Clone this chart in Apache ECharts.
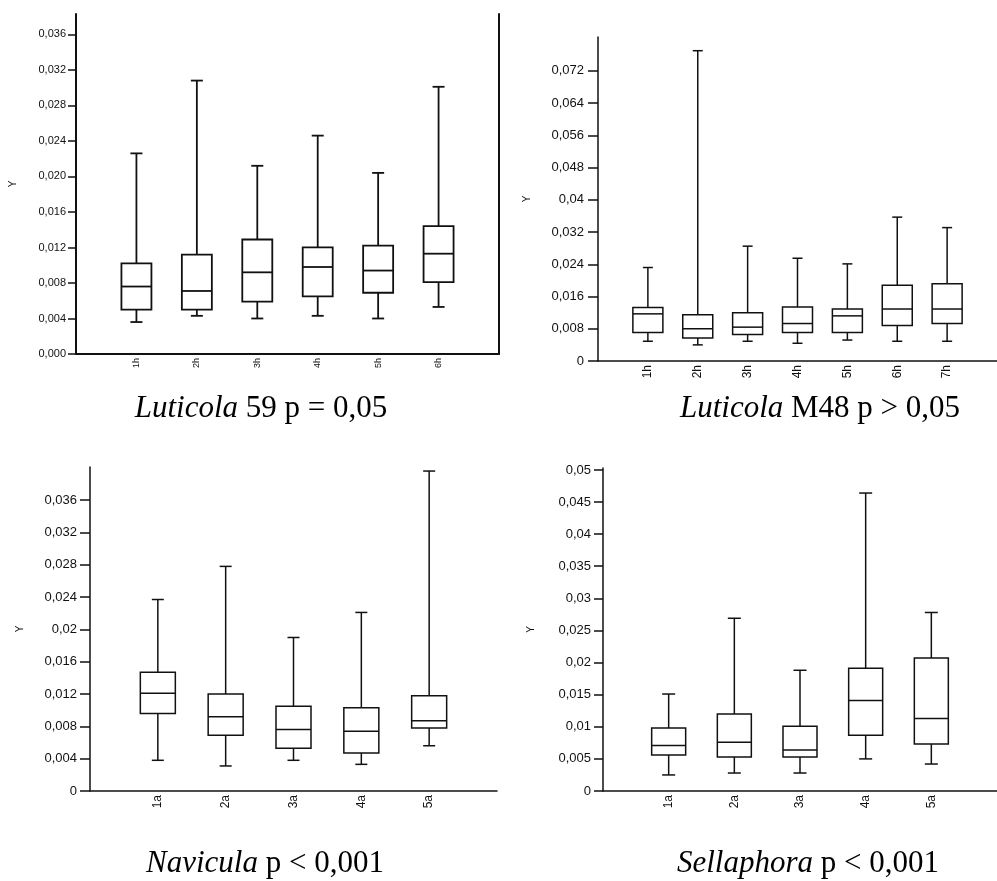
<!DOCTYPE html>
<html>
<head>
<meta charset="utf-8">
<script src="https://cdn.jsdelivr.net/npm/echarts@6/dist/echarts.min.js"></script>
<style>html,body{margin:0;padding:0;background:#fff}#c{width:997px;height:881px}</style>
</head>
<body>
<div id="c"></div>
<script>
// Panel 1: Luticola 59
const p1Cats = ['1h','2h','3h','4h','5h','6h'];
const p1Min = [0.0036, 0.0043, 0.0040, 0.0043, 0.0040, 0.0053];
const p1Q1 = [0.0050, 0.0050, 0.0059, 0.0065, 0.0069, 0.0081];
const p1Median = [0.0076, 0.0071, 0.0092, 0.0098, 0.0094, 0.0113];
const p1Q3 = [0.0102, 0.0112, 0.0129, 0.0120, 0.0122, 0.0144];
const p1Max = [0.0226, 0.0308, 0.0212, 0.0246, 0.0204, 0.0301];
const p1Ticks = [0, 0.004, 0.008, 0.012, 0.016, 0.020, 0.024, 0.028, 0.032, 0.036];
const p1TickLabels = ['0,000','0,004','0,008','0,012','0,016','0,020','0,024','0,028','0,032','0,036'];

// Panel 2: Luticola M48
const p2Cats = ['1h','2h','3h','4h','5h','6h','7h'];
const p2Min = [0.0049, 0.0040, 0.0049, 0.0044, 0.0052, 0.0049, 0.0049];
const p2Q1 = [0.0071, 0.0057, 0.0066, 0.0071, 0.0071, 0.0088, 0.0093];
const p2Median = [0.0117, 0.0080, 0.0084, 0.0093, 0.0112, 0.0129, 0.0129];
const p2Q3 = [0.0133, 0.0115, 0.0120, 0.0134, 0.0129, 0.0188, 0.0192];
const p2Max = [0.0232, 0.0770, 0.0285, 0.0255, 0.0241, 0.0357, 0.0331];
const p2Ticks = [0, 0.008, 0.016, 0.024, 0.032, 0.040, 0.048, 0.056, 0.064, 0.072];
const p2TickLabels = ['0','0,008','0,016','0,024','0,032','0,04','0,048','0,056','0,064','0,072'];

// Panel 3: Navicula
const p3Cats = ['1a','2a','3a','4a','5a'];
const p3Min = [0.0038, 0.0031, 0.0038, 0.0033, 0.0056];
const p3Q1 = [0.0096, 0.0069, 0.0053, 0.0047, 0.0078];
const p3Median = [0.0121, 0.0092, 0.0076, 0.0074, 0.0087];
const p3Q3 = [0.0147, 0.0120, 0.0105, 0.0103, 0.0118];
const p3Max = [0.0237, 0.0278, 0.0190, 0.0221, 0.0396];
const p3Ticks = [0, 0.004, 0.008, 0.012, 0.016, 0.020, 0.024, 0.028, 0.032, 0.036];
const p3TickLabels = ['0','0,004','0,008','0,012','0,016','0,02','0,024','0,028','0,032','0,036'];

// Panel 4: Sellaphora
const p4Cats = ['1a','2a','3a','4a','5a'];
const p4Min = [0.0025, 0.0028, 0.0028, 0.0050, 0.0042];
const p4Q1 = [0.0056, 0.0053, 0.0053, 0.0087, 0.0073];
const p4Median = [0.0071, 0.0076, 0.0064, 0.0141, 0.0113];
const p4Q3 = [0.0098, 0.0120, 0.0101, 0.0191, 0.0207];
const p4Max = [0.0151, 0.0269, 0.0188, 0.0464, 0.0278];
const p4Ticks = [0, 0.005, 0.010, 0.015, 0.020, 0.025, 0.030, 0.035, 0.040, 0.045, 0.050];
const p4TickLabels = ['0','0,005','0,01','0,015','0,02','0,025','0,03','0,035','0,04','0,045','0,05'];

const captions = [
  {it: 'Luticola', rest: ' 59 p = 0,05'},
  {it: 'Luticola', rest: ' M48 p > 0,05'},
  {it: 'Navicula', rest: ' p < 0,001'},
  {it: 'Sellaphora', rest: ' p < 0,001'}
];

const panels = [
  {cats: p1Cats, mn: p1Min, q1: p1Q1, md: p1Median, q3: p1Q3, mx: p1Max, ticks: p1Ticks, labels: p1TickLabels,
   grid: {left: 76, top: 14, width: 423, height: 340}, yMax: 0.0383, boxW: 30, capW: 12,
   yFont: 11, xFont: 9, nameGap: 58, lw: 1.8, axisW: 2, tick: 8, margin: 10},
  {cats: p2Cats, mn: p2Min, q1: p2Q1, md: p2Median, q3: p2Q3, mx: p2Max, ticks: p2Ticks, labels: p2TickLabels,
   grid: {left: 598, top: 37, width: 408, height: 324}, yMax: 0.0804, boxW: 30, capW: 10,
   yFont: 13, xFont: 12, nameGap: 66, lw: 1.5, axisW: 1.5, tick: 10, margin: 14},
  {cats: p3Cats, mn: p3Min, q1: p3Q1, md: p3Median, q3: p3Q3, mx: p3Max, ticks: p3Ticks, labels: p3TickLabels,
   grid: {left: 90, top: 467, width: 407, height: 324}, yMax: 0.0401, boxW: 35, capW: 12,
   yFont: 13, xFont: 12, nameGap: 65, lw: 1.5, axisW: 1.5, tick: 10, margin: 13},
  {cats: p4Cats, mn: p4Min, q1: p4Q1, md: p4Median, q3: p4Q3, mx: p4Max, ticks: p4Ticks, labels: p4TickLabels,
   grid: {left: 603, top: 468, width: 408, height: 323}, yMax: 0.0503, boxW: 34, capW: 13,
   yFont: 13, xFont: 12, nameGap: 67, lw: 1.5, axisW: 1.5, tick: 9, margin: 12}
];

const INK = '#111';
const grids = [], xAxes = [], yAxes = [], series = [];

panels.forEach((p, gi) => {
  grids.push(Object.assign({containLabel: false}, p.grid));
  const padded = [''].concat(p.cats, ['']);
  xAxes.push({
    type: 'category', gridIndex: gi, data: padded, boundaryGap: false,
    axisLine: {lineStyle: {color: INK, width: p.axisW}},
    axisTick: {show: false},
    axisLabel: {rotate: 90, fontSize: p.xFont, color: INK, margin: 4, fontFamily: 'Liberation Sans', interval: 0}
  });
  yAxes.push({
    type: 'value', gridIndex: gi, min: 0, max: p.yMax,
    name: 'Y', nameLocation: 'middle', nameGap: p.nameGap, nameRotate: 90,
    nameTextStyle: {fontSize: 10, color: INK, fontFamily: 'Liberation Sans'},
    splitLine: {show: false},
    axisLine: {show: true, lineStyle: {color: INK, width: p.axisW}},
    axisTick: {show: true, length: p.tick, customValues: p.ticks, lineStyle: {color: INK, width: 1.5}},
    axisLabel: {
      customValues: p.ticks, fontSize: p.yFont, color: INK, margin: p.margin, fontFamily: 'Liberation Sans',
      formatter: (v) => {
        let best = 0, bd = Infinity;
        p.ticks.forEach((t, k) => { const d = Math.abs(t - v); if (d < bd) { bd = d; best = k; } });
        return p.labels[best];
      }
    }
  });
  const yIndex = yAxes.length - 1;
  if (gi === 0) {
    yAxes.push({
      type: 'value', gridIndex: 0, position: 'right', min: 0, max: p.yMax,
      splitLine: {show: false}, axisTick: {show: false}, axisLabel: {show: false},
      axisLine: {show: true, lineStyle: {color: INK, width: p.axisW}}
    });
  }
  const data = p.cats.map((c, i) => [i + 1, p.mn[i], p.q1[i], p.md[i], p.q3[i], p.mx[i]]);
  series.push({
    type: 'custom', xAxisIndex: gi, yAxisIndex: yIndex,
    encode: {x: 0, y: [1, 2, 3, 4, 5]},
    data: data,
    renderItem: function (params, api) {
      const x = api.value(0);
      const c = [1, 2, 3, 4, 5].map(d => api.coord([x, api.value(d)]));
      const cx = c[0][0];
      const yMin = c[0][1], yQ1 = c[1][1], yMed = c[2][1], yQ3 = c[3][1], yMax = c[4][1];
      const hb = p.boxW / 2, hc = p.capW / 2;
      const st = {stroke: INK, lineWidth: p.lw, fill: null};
      return {
        type: 'group',
        children: [
          {type: 'line', shape: {x1: cx, y1: yQ3, x2: cx, y2: yMax}, style: st},
          {type: 'line', shape: {x1: cx - hc, y1: yMax, x2: cx + hc, y2: yMax}, style: st},
          {type: 'line', shape: {x1: cx, y1: yQ1, x2: cx, y2: yMin}, style: st},
          {type: 'line', shape: {x1: cx - hc, y1: yMin, x2: cx + hc, y2: yMin}, style: st},
          {type: 'rect', shape: {x: cx - hb, y: yQ3, width: p.boxW, height: yQ1 - yQ3},
           style: {stroke: INK, lineWidth: p.lw, fill: '#fff'}},
          {type: 'line', shape: {x1: cx - hb, y1: yMed, x2: cx + hb, y2: yMed}, style: st}
        ]
      };
    }
  });
});

const capPos = [[261, 409], [820, 409], [265, 864], [808, 864]];
const graphic = captions.map((cp, i) => ({
  type: 'text', x: capPos[i][0], y: capPos[i][1],
  style: {
    text: '{i|' + cp.it + '}' + cp.rest,
    fontFamily: 'Liberation Serif', fontSize: 31, fill: '#000',
    textAlign: 'center', textVerticalAlign: 'middle',
    rich: {i: {fontStyle: 'italic', fontFamily: 'Liberation Serif', fontSize: 31, fill: '#000'}}
  }
}));

const chart = echarts.init(document.getElementById('c'), null, {renderer: 'canvas'});
chart.setOption({
  animation: false,
  backgroundColor: '#fff',
  grid: grids, xAxis: xAxes, yAxis: yAxes, series: series, graphic: graphic
});
</script>
</body>
</html>
